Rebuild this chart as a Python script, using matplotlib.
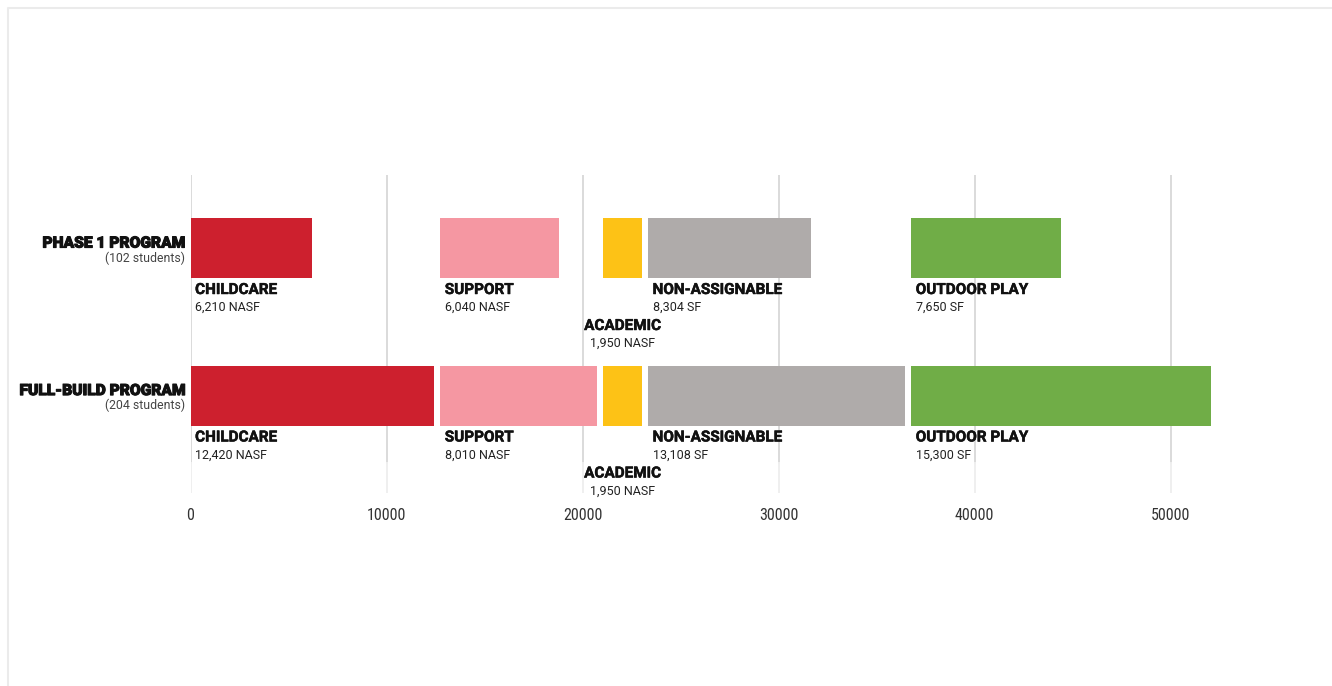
import matplotlib
matplotlib.use("Agg")
import matplotlib.pyplot as plt
from matplotlib import font_manager
from matplotlib.lines import Line2D
import matplotlib.patheffects as pe
import numpy as np

# ---- data ----
programs = ["PHASE 1 PROGRAM", "FULL-BUILD PROGRAM"]
students = ["(102 students)", "(204 students)"]
categories = ["CHILDCARE", "SUPPORT", "ACADEMIC", "NON-ASSIGNABLE", "OUTDOOR PLAY"]
units = ["NASF", "NASF", "NASF", "SF", "SF"]
phase1 = [6210, 6040, 1950, 8304, 7650]
full_build = [12420, 8010, 1950, 13108, 15300]
value_labels_p1 = ["6,210", "6,040", "1,950", "8,304", "7,650"]
value_labels_full = ["12,420", "8,010", "1,950", "13,108", "15,300"]
x_ticks = [0, 10000, 20000, 30000, 40000, 50000]
colors = ["#CD202E", "#F597A2", "#FDC216", "#AFABAA", "#70AD47"]
GAP = 320

def pick(fams):
    for f in fams:
        try:
            font_manager.findfont(font_manager.FontProperties(family=f), fallback_to_default=False)
            return f
        except Exception:
            continue
    return "DejaVu Sans"

f_main = pick(["Roboto", "Liberation Sans", "DejaVu Sans"])
f_tick = pick(["Liberation Sans Narrow", "Roboto Condensed", "DejaVu Sans"])

W, H = 1332, 686
fig = plt.figure(figsize=(W / 100, H / 100), dpi=100)
fig.patch.set_facecolor("white")

# frame border
fig.add_artist(Line2D([8 / W, 8 / W, 1], [0, 1 - 8 / H, 1 - 8 / H],
                      transform=fig.transFigure, color="#ebebeb", lw=1.5))

ax_top, ax_bot = 175, 493
xmax = 56000
ax = fig.add_axes([190.5 / W, (H - ax_bot) / H, xmax * 0.0196 / W, (ax_bot - ax_top) / H])
ax.set_xlim(0, xmax)
unit = 147.5
ax.set_ylim(1 + (ax_bot - 395.5) / unit, 0 - (248 - ax_top) / unit)
for s in ax.spines.values():
    s.set_visible(False)
ax.set_yticks([])
ax.set_xticks(x_ticks)
ax.set_xticklabels([str(t) for t in x_ticks], family=f_tick, fontsize=11.5, color="#333333")
ax.tick_params(axis="x", length=0, pad=11)

split = (ax_bot - 463) / (ax_bot - ax_top)
for t in x_ticks:
    ax.axvline(t, ymin=split, ymax=1, color="#dadada", lw=1.4, zorder=0)
    ax.axvline(t, ymin=0, ymax=split, color="#efefef", lw=1.4, zorder=0)

maxes = np.maximum(phase1, full_build)
starts = np.concatenate([[0], np.cumsum(maxes + GAP)[:-1]])

rows = [phase1, full_build]
vlabels = [value_labels_p1, value_labels_full]
bar_h = 60 / unit
heavy = [pe.withStroke(linewidth=0.75, foreground="#111111")]
semi = [pe.withStroke(linewidth=0.35, foreground="#111111")]
for r, (vals, vl) in enumerate(zip(rows, vlabels)):
    ax.barh([r] * len(vals), vals, left=starts, height=bar_h, color=colors, zorder=2)
    for i, cat in enumerate(categories):
        if cat == "ACADEMIC":
            xy = (starts[i] + vals[i] / 2, r)
            dx, ha = 0, "center"
            dy1, dy2 = -82 * 0.72, -99 * 0.72
        else:
            xy = (starts[i], r)
            dx, ha = 3.3, "left"
            dy1, dy2 = -46 * 0.72, -63 * 0.72
        ax.annotate(cat, xy=xy, xytext=(dx, dy1), textcoords="offset points",
                    ha=ha, va="baseline", fontsize=11, fontweight="bold",
                    family=f_main, color="#111111", annotation_clip=False,
                    path_effects=semi)
        ax.annotate(f"{vl[i]} {units[i]}", xy=xy, xytext=(dx, dy2), textcoords="offset points",
                    ha=ha, va="baseline", fontsize=9, family=f_main,
                    color="#222222", annotation_clip=False)
    ax.annotate(programs[r], xy=(0, r), xytext=(-3.8, 0.3), textcoords="offset points",
                ha="right", va="baseline", fontsize=11.2, fontweight="black",
                family=f_main, color="#111111", annotation_clip=False,
                path_effects=heavy)
    ax.annotate(students[r], xy=(0, r), xytext=(-3.8, -9.8), textcoords="offset points",
                ha="right", va="baseline", fontsize=8.8, family=f_main,
                color="#444444", annotation_clip=False)

fig.savefig("out.png", dpi=100, facecolor="white")
